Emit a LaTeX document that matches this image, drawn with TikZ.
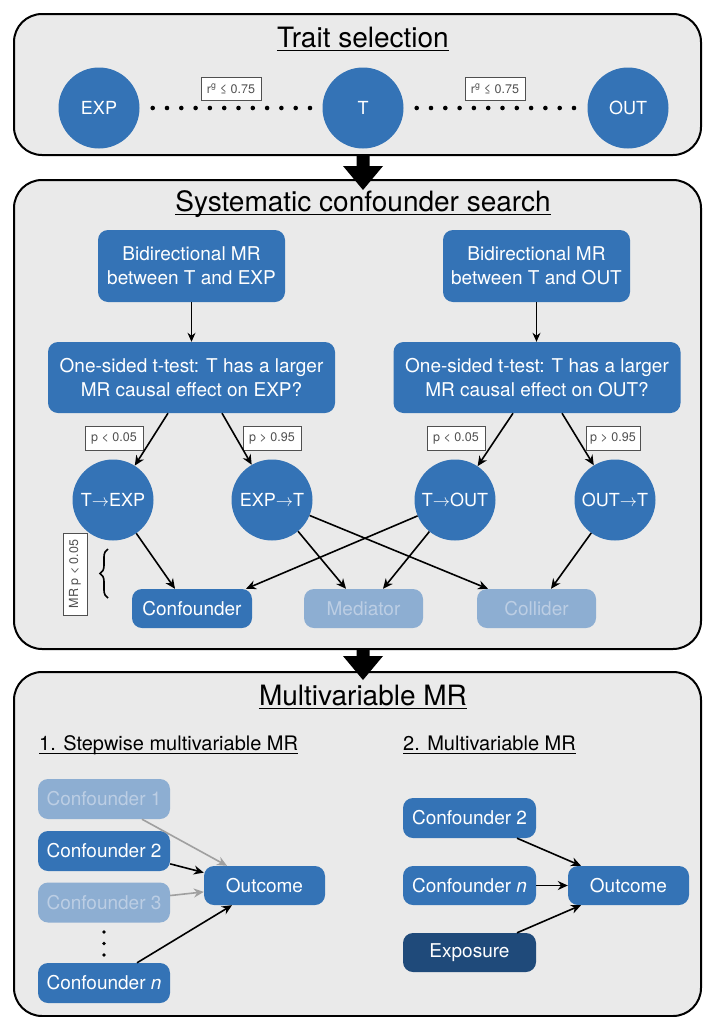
\documentclass[tikz,border=0pt]{standalone}
\usepackage{fontspec}
\setmainfont{TeX Gyre Heros}
\usetikzlibrary{arrows.meta,decorations.pathreplacing}
\definecolor{panelbg}{RGB}{234,234,234}
\definecolor{boxblue}{RGB}{52,115,182}
\definecolor{boxlight}{RGB}{141,174,210}
\definecolor{txtlight}{RGB}{188,206,228}
\definecolor{boxdark}{RGB}{31,74,122}
\definecolor{arrgrey}{RGB}{160,160,160}
\definecolor{lbltxt}{RGB}{80,80,80}
\tikzset{
  panel/.style={draw=black, line width=2pt, fill=panelbg, rounded corners=28pt},
  ttl/.style={inner sep=0pt, anchor=base, font=\fontsize{28}{32}\selectfont},
  subttl/.style={inner sep=0pt, anchor=base west, font=\fontsize{20}{24}\selectfont},
  ul/.style={line width=1.1pt},
  bx/.style={rectangle, rounded corners=10pt, fill=boxblue, text=white, inner sep=0pt,
     align=center, font=\fontsize{19}{24}\selectfont},
  bxlight/.style={bx, fill=boxlight, text=txtlight},
  bxdark/.style={bx, fill=boxdark},
  crc/.style={circle, fill=boxblue, text=white, minimum size=81pt, inner sep=0pt,
     font=\fontsize{18}{20}\selectfont},
  lbl/.style={draw=lbltxt, line width=0.8pt, fill=white, text=lbltxt, inner sep=0pt,
     font=\fontsize{12.5}{14}\selectfont},
  arr/.style={line width=1.6pt, -{Stealth[length=10pt,width=9pt]}},
  garr/.style={arr, draw=arrgrey, -{Stealth[length=10pt,width=9pt,fill=arrgrey]}},
  dotline/.style={line width=4.6pt, line cap=round, dash pattern=on 0pt off 14.3pt},
  bigarrow/.style={fill=black, draw=none}
}
\begin{document}
\begin{tikzpicture}[x=1pt,y=-1pt]
\useasboundingbox (0,0) rectangle (702,1017);
\clip (0,0) rectangle (702,1017);
\fill[white] (0,0) rectangle (702,1017);

% ---------- panel 1 ----------
\draw[panel] (14,14) rectangle (701,155);
\node[ttl] (t1) at (363,47) {Trait selection};
\draw[ul] ([yshift=-3.5pt]t1.base west) -- ([yshift=-3.5pt]t1.base east);
\node[crc] (exp) at (99,108) {EXP};
\node[crc] (tt)  at (363,108) {T};
\node[crc] (out) at (628,108) {OUT};
\draw[dotline, shorten <=13pt, shorten >=8pt] (exp) -- (tt);
\draw[dotline, shorten <=13pt, shorten >=8pt] (tt) -- (out);
\node[lbl, minimum width=60pt, minimum height=23pt] (r1) at (231,89) {r\textsuperscript{g} ≤ 0.75};
\node[lbl, minimum width=60pt, minimum height=23pt] (r2) at (495,89) {r\textsuperscript{g} ≤ 0.75};

% ---------- panel 2 ----------
\draw[panel] (14,180) rectangle (701,649);
\node[ttl] (t2) at (363,211) {Systematic confounder search};
\draw[ul] ([yshift=-3.5pt]t2.base west) -- ([yshift=-3.5pt]t2.base east);
\node[bx, minimum width=187pt, minimum height=72pt] (bl) at (191.5,266) {Bidirectional MR\\between T and EXP};
\node[bx, minimum width=187pt, minimum height=72pt] (br) at (536.5,266) {Bidirectional MR\\between T and OUT};
\node[bx, minimum width=287pt, minimum height=71pt] (tl) at (191.5,377.5) {One-sided t-test: T has a larger\\MR causal effect on EXP?};
\node[bx, minimum width=287pt, minimum height=71pt] (tr) at (537,377.5) {One-sided t-test: T has a larger\\MR causal effect on OUT?};
\draw[arr, -{Stealth[length=9pt,width=8pt]}, line width=1.3pt] (bl) -- (tl);
\draw[arr, -{Stealth[length=9pt,width=8pt]}, line width=1.3pt] (br.south) -- (br.south |- tr.north);

\node[crc] (c1) at (113,500) {T$\rightarrow$EXP};
\node[crc] (c2) at (272,500) {EXP$\rightarrow$T};
\node[crc] (c3) at (455,500) {T$\rightarrow$OUT};
\node[crc] (c4) at (615,500) {OUT$\rightarrow$T};

\node[lbl, minimum width=58pt, minimum height=24pt] (p1) at (114,438) {p < 0.05};
\node[lbl, minimum width=58pt, minimum height=24pt] (p2) at (272,438) {p > 0.95};
\node[lbl, minimum width=58pt, minimum height=24pt] (p3) at (456,438) {p < 0.05};
\node[lbl, minimum width=54pt, minimum height=24pt] (p4) at (613,438) {p > 0.95};

\draw[arr] ([xshift=-23.5pt]tl.south) -- (c1);
\draw[arr] ([xshift=30.5pt]tl.south) -- (c2);
\draw[arr] ([xshift=-24pt]tr.south) -- (c3);
\draw[arr] ([xshift=25pt]tr.south) -- (c4);

\node[bx, minimum width=120pt, minimum height=39pt] (conf) at (192,608.5) {Confounder};
\node[bxlight, minimum width=119pt, minimum height=39pt] (med) at (363.5,608.5) {Mediator};
\node[bxlight, minimum width=119pt, minimum height=39pt] (col) at (536.5,608.5) {Collider};

\draw[arr] (c1) -- ([xshift=-17pt]conf.north);
\draw[arr] (c3) -- ([xshift=54pt]conf.north);
\draw[arr] (c2) -- ([xshift=-17.5pt]med.north);
\draw[arr] (c3) -- ([xshift=19.5pt]med.north);
\draw[arr] (c2) -- ([xshift=-48.5pt]col.north);
\draw[arr] (c4) -- ([xshift=14.5pt]col.north);

\node[lbl, rotate=90, minimum width=82pt, minimum height=24pt] (mrp) at (75,574) {MR p < 0.05};
\coordinate (brb) at (108,598);
\coordinate (brt) at (108,549);
\draw[line width=1.6pt, decorate, decoration={brace, amplitude=8pt}] (brb) -- (brt);

% ---------- panel 3 ----------
\draw[panel] (14,672) rectangle (701,1016);
\node[ttl] (t3) at (363,705) {Multivariable MR};
\draw[ul] ([yshift=-3.5pt]t3.base west) -- ([yshift=-3.5pt]t3.base east);
\node[subttl] (s1) at (39,750) {1. Stepwise multivariable MR};
\draw[line width=0.9pt] ([yshift=-3pt]s1.base west) -- ([yshift=-3pt]s1.base east);
\node[subttl] (s2) at (403,750) {2. Multivariable MR};
\draw[line width=0.9pt] ([yshift=-3pt]s2.base west) -- ([yshift=-3pt]s2.base east);

\node[bxlight, minimum width=132pt, minimum height=40pt] (lc1) at (104,799) {Confounder 1};
\node[bx, minimum width=132pt, minimum height=40pt] (lc2) at (104,851) {Confounder 2};
\node[bxlight, minimum width=132pt, minimum height=40pt] (lc3) at (104,902.5) {Confounder 3};
\node[bx, minimum width=132pt, minimum height=40pt] (lcn) at (104,983) {Confounder \textit{n}};
\node[bx, minimum width=121pt, minimum height=39pt] (lout) at (264.5,885.5) {Outcome};
\fill (104,932) circle (1.8pt) (104,943.5) circle (1.8pt) (104,955) circle (1.8pt);

\draw[garr] ([xshift=38pt]lc1.south) -- ([xshift=-37.5pt]lout.north);
\draw[arr] (lc2.-11) -- (lout.168);
\draw[garr] (lc3.6) -- (lout.186);
\draw[arr] ([xshift=33pt]lcn.north) -- ([xshift=-32.5pt]lout.south);

\node[bx, minimum width=133pt, minimum height=40pt] (rc2) at (469.5,818) {Confounder 2};
\node[bx, minimum width=133pt, minimum height=39pt] (rcn) at (469.5,885.5) {Confounder \textit{n}};
\node[bxdark, minimum width=133pt, minimum height=39pt] (rexp) at (469.5,952.5) {Exposure};
\node[bx, minimum width=121pt, minimum height=39pt] (rout) at (628.5,885.5) {Outcome};
\draw[arr] ([xshift=47.5pt]rc2.south) -- ([xshift=-47.5pt]rout.north);
\draw[arr] (rcn) -- (rout);
\draw[arr] ([xshift=47.5pt]rexp.north) -- ([xshift=-47.5pt]rout.south);

% ---------- big arrows ----------
\fill[bigarrow] (356.5,154) -- (369.5,154) -- (369.5,166) -- (383,166) -- (363,190) -- (343,166) -- (356.5,166) -- cycle;
\fill[bigarrow] (356.5,648) -- (369.5,648) -- (369.5,656) -- (383,656) -- (363,680) -- (343,656) -- (356.5,656) -- cycle;
\end{tikzpicture}
\end{document}
